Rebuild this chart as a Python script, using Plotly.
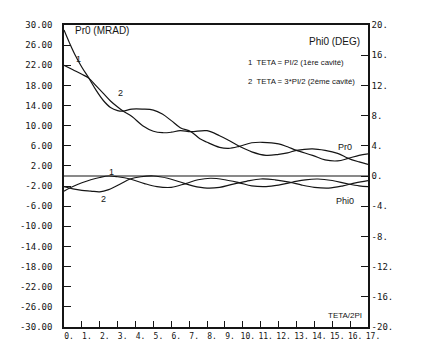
import plotly.graph_objects as go

# abscissa TETA/2PI, Pr0 in MRAD (left axis), Phi0 in DEG (right axis)
pr0_x1 = [0, 0.3, 0.6, 1.0, 1.4, 1.8, 2.2, 2.6, 3.0, 3.3, 3.8, 4.4, 5.0, 5.5, 6.0, 6.5, 7.1, 7.6, 8.0,
          8.7, 9.2, 9.8, 10.5, 11.1, 12.0, 12.5, 13.0, 13.9, 14.6, 15.3, 15.9, 16.5, 17.0]
pr0_y1 = [29.0, 26.5, 24.2, 21.6, 19.4, 17.0, 15.0, 13.6, 13.0, 12.9, 13.3, 13.3, 13.1, 12.3, 11.0, 9.6, 8.8, 7.4, 6.7,
          5.7, 5.5, 5.9, 6.6, 6.7, 6.4, 5.8, 5.1, 4.1, 3.2, 3.0, 3.5, 4.1, 4.4]

pr0_x2 = [0, 0.5, 1.0, 1.4, 1.8, 2.2, 2.6, 3.0, 3.3, 3.8, 4.4, 5.0, 5.5, 6.0, 6.5, 7.1, 8.0, 8.7, 9.2,
          9.8, 10.5, 11.3, 12.0, 12.5, 13.0, 13.9, 14.6, 15.3, 15.9, 16.5, 17.0]
pr0_y2 = [22.0, 21.1, 20.2, 19.4, 17.9, 16.4, 14.9, 13.7, 12.9, 11.8, 10.0, 8.9, 8.6, 8.7, 9.0, 8.8, 9.0, 8.0, 7.1,
          5.9, 4.8, 4.1, 4.3, 4.6, 5.1, 5.4, 5.1, 4.5, 3.5, 2.8, 2.3]

phi0_x1 = [0, 0.5, 1.0, 1.5, 2.0, 2.5, 3.0, 3.7, 4.5, 5.2, 6.0, 6.8, 7.5, 8.2, 9.0, 9.8, 10.5, 11.3,
           12.0, 12.8, 13.5, 14.2, 15.0, 15.8, 16.5, 17.0]
phi0_y1 = [-2.0, -1.4, -0.9, -0.5, -0.2, 0.0, -0.1, -0.4, -1.0, -1.4, -1.5, -1.0, -0.5, -0.3, -0.5, -0.9, -1.3, -1.4,
           -1.2, -0.8, -0.5, -0.4, -0.6, -1.0, -1.3, -1.4]

phi0_x2 = [0, 0.5, 1.0, 1.5, 2.0, 2.5, 3.2, 3.7, 4.3, 5.0, 5.8, 6.5, 7.2, 8.0, 8.7, 9.4, 10.2, 11.0,
           11.8, 12.6, 13.3, 14.0, 14.8, 15.6, 16.3, 17.0]
phi0_y2 = [-1.4, -1.7, -1.9, -2.0, -2.1, -1.8, -1.0, -0.4, -0.1, 0.0, -0.3, -0.8, -1.3, -1.6, -1.5, -1.1, -0.7, -0.4,
           -0.5, -0.8, -1.2, -1.5, -1.6, -1.3, -0.9, -0.6]

x_ticks = list(range(0, 18))
left_ticks = list(range(30, -31, -4))
right_ticks = list(range(20, -21, -4))

ink = "#151515"
mono = "DejaVu Sans Mono"
sans = "Liberation Sans"

fig = go.Figure()
for xs, ys in [(pr0_x1, pr0_y1), (pr0_x2, pr0_y2)]:
    fig.add_trace(go.Scatter(x=xs, y=ys, mode="lines", line=dict(color=ink, width=1.2, shape="spline"),
                             yaxis="y", showlegend=False))
for xs, ys in [(phi0_x1, phi0_y1), (phi0_x2, phi0_y2)]:
    fig.add_trace(go.Scatter(x=xs, y=ys, mode="lines", line=dict(color=ink, width=1.2, shape="spline"),
                             yaxis="y2", showlegend=False))

# zero reference line
fig.add_shape(type="line", xref="paper", x0=0, x1=1, yref="y2", y0=0, y1=0,
              line=dict(color=ink, width=1.2))

ann = [
    ("Pr0 (MRAD)", 0.03, 0.982, "left", 10),
    ("Phi0 (DEG)", 0.98, 0.945, "right", 10),
    ("1  TETA = PI/2 (1ère cavité)", 0.6, 0.875, "left", 7.8),
    ("2  TETA = 3*PI/2 (2ème cavité)", 0.6, 0.813, "left", 7.8),
    ("Pr0", 0.925, 0.595, "center", 9),
    ("Phi0", 0.925, 0.418, "center", 9),
    ("TETA/2PI", 0.925, 0.039, "center", 8),
    ("1", 0.049, 0.887, "center", 9),
    ("2", 0.186, 0.775, "center", 9),
    ("1", 0.156, 0.514, "center", 9),
    ("2", 0.13, 0.424, "center", 9),
]
for text, ax, ay, anchor, size in ann:
    fig.add_annotation(text=text, x=ax, y=ay, xref="paper", yref="paper", xanchor=anchor, yanchor="middle",
                       showarrow=False, font=dict(family=sans, size=size, color=ink))

fig.update_layout(
    width=445, height=345,
    margin=dict(l=53, r=85, t=12, b=22),
    paper_bgcolor="white", plot_bgcolor="white",
    xaxis=dict(range=[0, 17], tickvals=x_ticks, ticktext=[f"{v}." for v in x_ticks],
               ticks="inside", ticklen=6, tickcolor=ink, tickwidth=1, tickangle=0,
               showline=True, linecolor=ink, linewidth=1.5, mirror=True,
               showgrid=False, zeroline=False, ticklabelshift=5, ticklabelstandoff=1,
               tickfont=dict(family=mono, size=8, color=ink)),
    yaxis=dict(range=[-30, 30], tickvals=left_ticks, ticktext=[f"{v:.2f}" for v in left_ticks],
               ticks="inside", ticklen=7, tickcolor=ink, tickwidth=1.2,
               showline=True, linecolor=ink, linewidth=1.5, mirror=True,
               showgrid=False, zeroline=False, ticklabelstandoff=8,
               tickfont=dict(family=mono, size=9, color=ink)),
    yaxis2=dict(range=[-20, 20], tickvals=right_ticks, ticktext=[f"{v}." for v in right_ticks],
                overlaying="y", side="right",
                ticks="inside", ticklen=7, tickcolor=ink, tickwidth=1.2,
                showline=True, linecolor=ink, linewidth=1.5,
                showgrid=False, zeroline=False,
                tickfont=dict(family=mono, size=9, color=ink)),
)

fig.write_html("out.html")
